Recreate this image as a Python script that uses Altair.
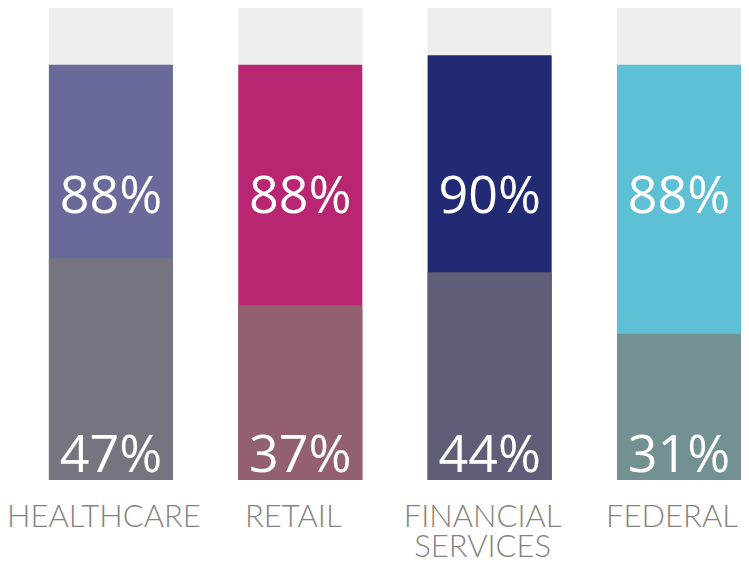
import altair as alt
import pandas as pd

categories = ["HEALTHCARE", "RETAIL", "FINANCIAL SERVICES", "FEDERAL"]
top_values = [88, 88, 90, 88]
bottom_values = [47, 37, 44, 31]
full_value = 100

top_colors = ["#6A6A9A", "#B82570", "#232A74", "#5EC0D5"]
bottom_colors = ["#76747F", "#936070", "#5E5E78", "#739093"]

df = pd.DataFrame({
    "cat": categories,
    "top": top_values,
    "bottom": bottom_values,
    "full": [full_value] * len(categories),
})
df["top_label"] = df["top"].astype(str) + "%"
df["bottom_label"] = df["bottom"].astype(str) + "%"

xscale = alt.Scale(domain=categories, paddingInner=0.345, paddingOuter=0.108, align=1)
yscale = alt.Scale(domain=[0, 100])

x_axis = alt.Axis(
    title=None, ticks=False, domain=False, grid=False,
    labelExpr="split(datum.label, ' ')",
    labelFont="Lato", labelFontSize=31, labelFontWeight=300, labelColor="#85837E",
    labelPadding=22, labelLineHeight=30, labelAngle=0, labelLimit=0,
    labelOverlap=False, labelOffset=-7,
)
X = alt.X("cat:N", scale=xscale, axis=x_axis, sort=categories)

base = alt.Chart(df)

bg = base.mark_bar(color="#EEEEEC").encode(
    x=X,
    y=alt.Y("full:Q", scale=yscale, axis=None),
)

topbar = base.mark_bar().encode(
    x=X,
    y=alt.Y("top:Q", scale=yscale, axis=None),
    color=alt.Color("cat:N", scale=alt.Scale(domain=categories, range=top_colors), legend=None),
)

botbar = base.mark_bar().encode(
    x=X,
    y=alt.Y("bottom:Q", scale=yscale, axis=None),
    color=alt.Color("cat:N", scale=alt.Scale(domain=categories, range=bottom_colors), legend=None),
)

toptext = base.mark_text(
    font="Open Sans", fontSize=52, fontWeight=500, color="white",
    baseline="alphabetic", align="center"
).encode(
    x=X,
    y=alt.datum(56.6),
    text="top_label:N",
)

bottext = base.mark_text(
    font="Open Sans", fontSize=52, fontWeight=500, color="white",
    baseline="alphabetic", align="center", dy=-8
).encode(
    x=X,
    y=alt.datum(0),
    text="bottom_label:N",
)

chart = alt.layer(bg, topbar, botbar, toptext, bottext).resolve_scale(
    color="independent"
).properties(
    width=733, height=472,
    autosize=alt.AutoSizeParams(type="none"),
    padding={"left": 0, "top": 0, "right": 0, "bottom": 88},
).configure_view(stroke=None)

chart.save("out.html", embed_options={"renderer": "svg", "actions": False})
